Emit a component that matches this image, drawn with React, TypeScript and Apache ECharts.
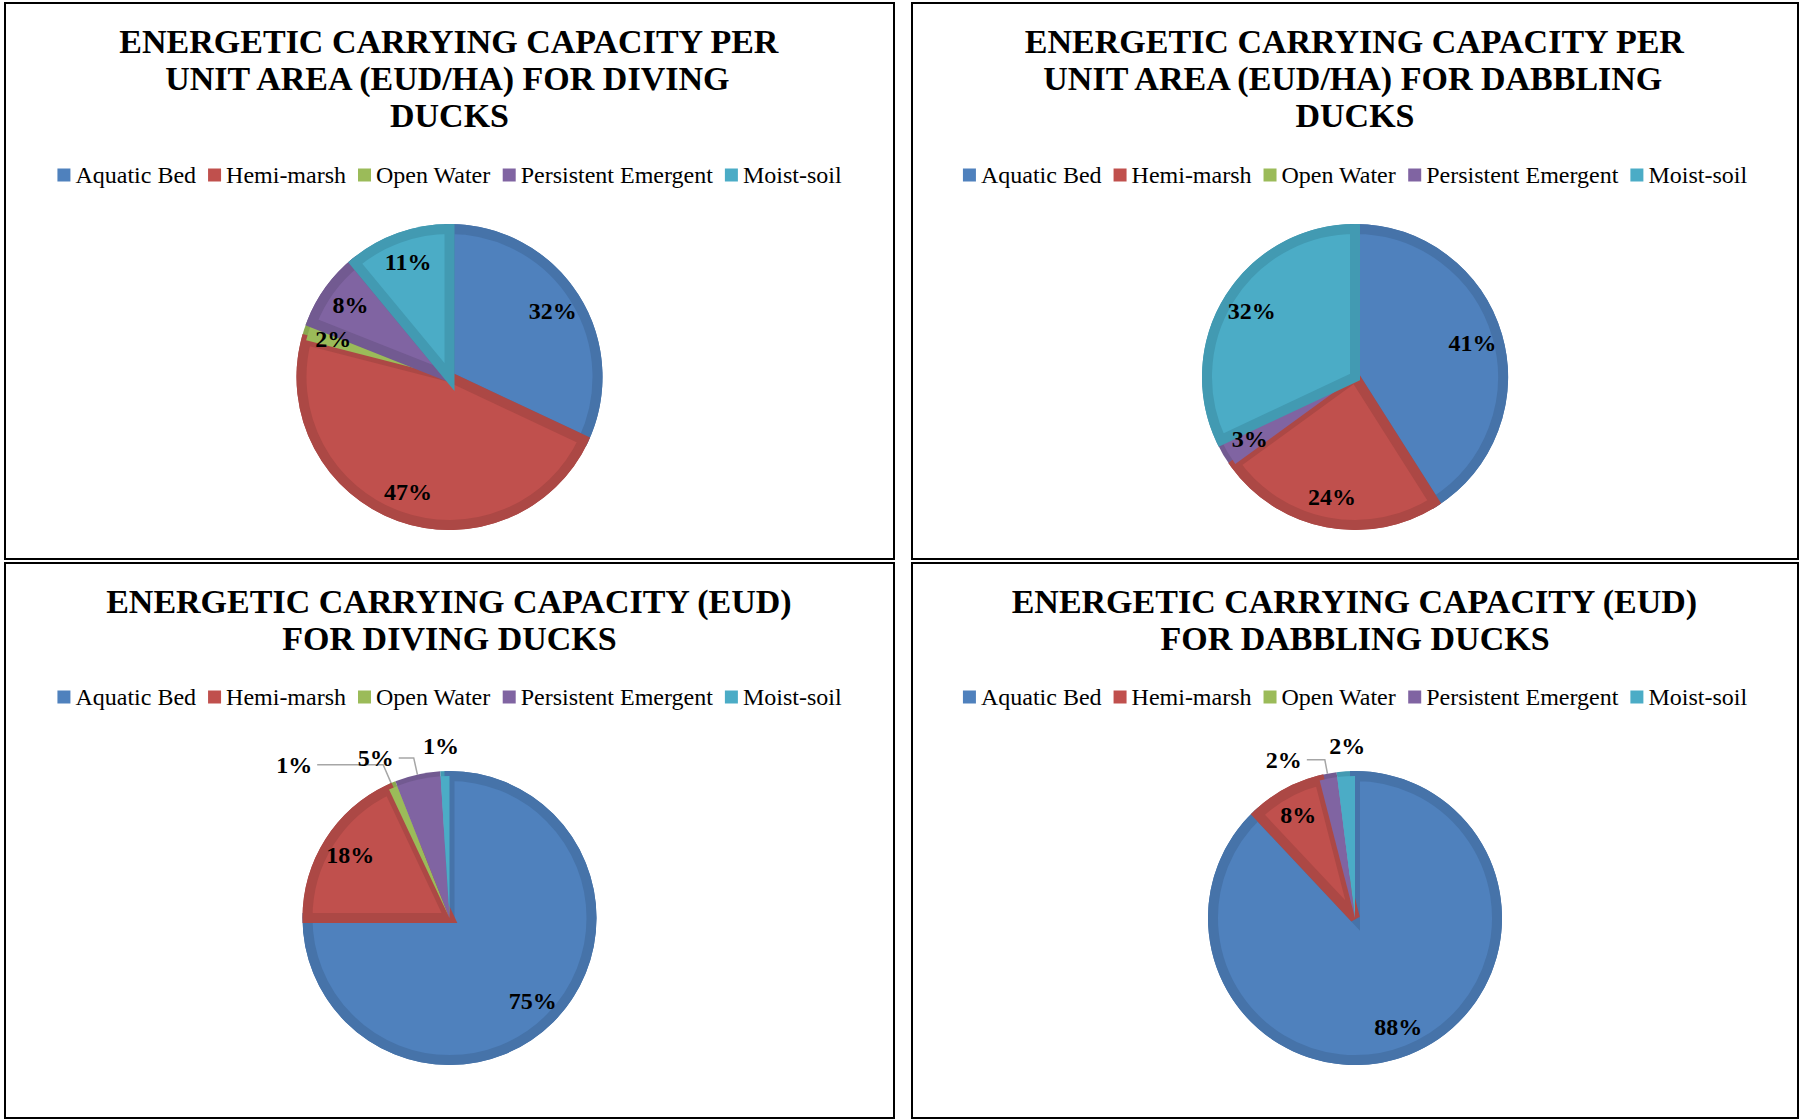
import React, { useEffect, useRef } from "react";
import * as echarts from "echarts";

// Habitat classes, in the clockwise order the slices are drawn from 12 o'clock
const categories = ["Aquatic Bed", "Hemi-marsh", "Open Water", "Persistent Emergent", "Moist-soil"];

// Share of energetic carrying capacity (%) per habitat class
const divingPerHa = [32, 47, 2, 8, 11];
const dabblingPerHa = [41, 24, 0, 3, 32];
const divingTotal = [75, 18, 1, 5, 1];
const dabblingTotal = [88, 8, 0, 2, 2];

const titleDivingPerHa = ["ENERGETIC CARRYING CAPACITY PER", "UNIT AREA (EUD/HA) FOR DIVING", "DUCKS"];
const titleDabblingPerHa = ["ENERGETIC CARRYING CAPACITY PER", "UNIT AREA (EUD/HA) FOR DABBLING", "DUCKS"];
const titleDivingTotal = ["ENERGETIC CARRYING CAPACITY (EUD)", "FOR DIVING DUCKS"];
const titleDabblingTotal = ["ENERGETIC CARRYING CAPACITY (EUD)", "FOR DABBLING DUCKS"];

const fillColors = ["#4F81BD", "#C0504D", "#9BBB59", "#8064A2", "#4BACC6"];
const rimColors = ["#4673A9", "#AC4845", "#8AA84F", "#725A91", "#429AB2"];

const SERIF = '"Liberation Serif", "Times New Roman", Times, serif';

type OutsideLabel = { length: number; length2: number; line: boolean };

interface PanelProps {
  left: number;
  top: number;
  width: number;
  height: number;
  title: string[];
  values: number[];
  radius: number;
  centerY: number;
  legendTop: number;
  outside: Record<string, OutsideLabel>;
}

const RIM = 10;
const TITLE_TOP = 19;
const TITLE_LINE = 37;

function buildOption(p: PanelProps): echarts.EChartsOption {
  const r = p.radius;
  const labelText = {
    fontFamily: SERIF,
    fontWeight: "bold" as const,
    fontSize: 24,
    color: "#000",
  };
  const pct = (v: any) => Math.round(v.percent) + "%";

  // dark rim layer (full radius), also carrying the outside labels
  const rimData = p.values.map((v, i) => {
    const o = p.outside[categories[i]];
    return {
      name: categories[i],
      value: v,
      itemStyle: { color: rimColors[i] },
      label: o && v > 0
        ? { show: true, position: "outside" as const, formatter: pct, ...labelText, distanceToLabelLine: 5 }
        : { show: false },
      labelLine: o
        ? {
            show: o.line,
            length: o.length,
            length2: o.length2,
            smooth: false,
            lineStyle: { color: "#A6A6A6", width: 1.5 },
          }
        : { show: false },
    };
  });

  // lighter face of each slice, inset from the rim
  const faceData = p.values.map((v, i) => ({
    name: categories[i],
    value: v,
    itemStyle: {
      color: fillColors[i],
      borderColor: rimColors[i],
      borderWidth: v >= 8 ? RIM : 0,
      borderJoin: "miter" as const,
    },
  }));

  // transparent ring that places the inside labels towards the rim
  const labelData = p.values.map((v, i) => ({
    name: categories[i],
    value: v,
    label: {
      show: v > 0 && !p.outside[categories[i]],
    },
  }));

  const common = {
    type: "pie" as const,
    center: ["50%", p.centerY] as any,
    startAngle: 90,
    clockwise: true,
    avoidLabelOverlap: false,
    silent: true,
    emphasis: { disabled: true },
  };

  // one centred text element per title line
  const titleLines = p.title.map((line, k) => ({
    type: "text" as const,
    left: "center",
    top: TITLE_TOP + k * TITLE_LINE,
    silent: true,
    style: {
      text: line,
      fontFamily: SERIF,
      fontWeight: "bold",
      fontSize: 34,
      lineHeight: TITLE_LINE,
      fill: "#000",
    },
  }));

  return {
    animation: false,
    backgroundColor: "#fff",
    graphic: titleLines as any,
    legend: {
      top: p.legendTop,
      left: "center",
      padding: 0,
      icon: "rect",
      itemWidth: 13,
      itemHeight: 13,
      itemGap: 12,
      selectedMode: false,
      textStyle: { fontFamily: SERIF, fontSize: 24, color: "#000" },
      data: categories.map((name, i) => ({ name, itemStyle: { color: fillColors[i] } })),
    },
    series: [
      {
        ...common,
        name: "rim",
        radius: [0, r],
        z: 1,
        label: { show: false },
        labelLine: { show: false },
        data: rimData,
      },
      {
        ...common,
        name: "face",
        radius: [0, r - RIM / 2],
        z: 2,
        label: { show: false },
        labelLine: { show: false },
        data: faceData,
      },
      {
        ...common,
        name: "labels",
        radius: [r * 0.56, r],
        z: 3,
        itemStyle: { color: "rgba(0,0,0,0)", borderWidth: 0 },
        label: { position: "inside", formatter: pct, ...labelText },
        labelLine: { show: false },
        data: labelData,
      },
    ] as any,
  };
}

function PiePanel(props: PanelProps) {
  const ref = useRef<HTMLDivElement>(null);
  useEffect(() => {
    if (!ref.current) return;
    const chart = echarts.init(ref.current, undefined, { renderer: "svg" });
    chart.setOption(buildOption(props));
    return () => chart.dispose();
  }, []);
  return (
    <div
      style={{
        position: "absolute",
        left: props.left,
        top: props.top,
        width: props.width,
        height: props.height,
        border: "2px solid #000",
        boxSizing: "border-box",
        background: "#fff",
      }}
    >
      <div ref={ref} style={{ width: props.width - 4, height: props.height - 4 }} />
    </div>
  );
}

const noOutside: Record<string, OutsideLabel> = {};
const divingTotalOutside: Record<string, OutsideLabel> = {
  "Open Water": { length: 20, length2: 66, line: true },
  "Persistent Emergent": { length: 17, length2: 15, line: true },
  "Moist-soil": { length: 25, length2: -20, line: false },
};
const dabblingTotalOutside: Record<string, OutsideLabel> = {
  "Persistent Emergent": { length: 14, length2: 18, line: true },
  "Moist-soil": { length: 25, length2: -26, line: false },
};

export default function App() {
  return (
    <div style={{ position: "absolute", left: 0, top: 0, width: 1801, height: 1119, background: "#fff" }}>
      <PiePanel left={4} top={2} width={891} height={558} title={titleDivingPerHa}
        values={divingPerHa} radius={153} centerY={373} legendTop={159} outside={noOutside} />
      <PiePanel left={911} top={2} width={888} height={558} title={titleDabblingPerHa}
        values={dabblingPerHa} radius={153} centerY={373} legendTop={159} outside={noOutside} />
      <PiePanel left={4} top={562} width={891} height={557} title={titleDivingTotal}
        values={divingTotal} radius={147} centerY={354} legendTop={121} outside={divingTotalOutside} />
      <PiePanel left={911} top={562} width={888} height={557} title={titleDabblingTotal}
        values={dabblingTotal} radius={147} centerY={354} legendTop={121} outside={dabblingTotalOutside} />
    </div>
  );
}
